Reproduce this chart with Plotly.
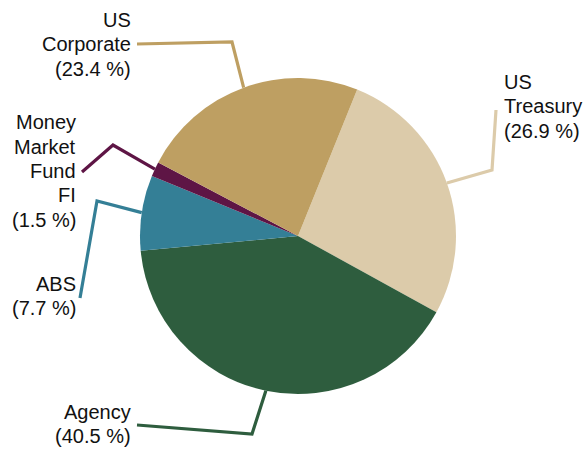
import math
import plotly.graph_objects as go

# data
sectors = ["US Treasury", "Agency", "ABS", "Money Market Fund FI", "US Corporate"]
label_lines = [["US", "Treasury"], ["Agency"], ["ABS"], ["Money", "Market", "Fund", "FI"], ["US", "Corporate"]]
shares = [26.9, 40.5, 7.7, 1.5, 23.4]
colors = ["#DCCBAA", "#2E5D3E", "#347F96", "#5E1545", "#BE9F62"]

W, H = 586, 450
cx, cy, R = 298, 236, 158
rotation = 22
line_gap = 24.5

# label layout (pixel coords): elbow, line end, text anchor (centre of block), x anchor
label_layout = [
    dict(elbow=(492, 170), end=(496, 110), text=(502, 106), xanchor="left"),
    dict(elbow=(252, 434), end=(137, 425), text=(133, 424), xanchor="right"),
    dict(elbow=(97, 201), end=(80, 298), text=(78, 296), xanchor="right"),
    dict(elbow=(113, 145), end=(82, 172), text=(78, 171), xanchor="right"),
    dict(elbow=(232, 42), end=(137, 44), text=(133, 44), xanchor="right"),
]


def to_paper(x, y):
    return x / W, 1 - y / H


fig = go.Figure(go.Pie(
    labels=sectors,
    values=shares,
    sort=False,
    direction="clockwise",
    rotation=rotation,
    marker=dict(colors=colors, line=dict(width=0)),
    textinfo="none",
    hoverinfo="label+percent",
    domain=dict(x=[(cx - R) / W, (cx + R) / W], y=[1 - (cy + R) / H, 1 - (cy - R) / H]),
    showlegend=False,
))

total = sum(shares)
start = rotation
shapes = []
annotations = []
for lines, val, col, lay in zip(label_lines, shares, colors, label_layout):
    span = val / total * 360
    mid = math.radians(start + span / 2)
    start += span
    sx, sy = cx + R * math.sin(mid), cy - R * math.cos(mid)
    pts = [to_paper(sx, sy), to_paper(*lay["elbow"]), to_paper(*lay["end"])]
    path = "M {} {} L {} {} L {} {}".format(*[c for p in pts for c in p])
    shapes.append(dict(type="path", path=path, xref="paper", yref="paper",
                       line=dict(color=col, width=3.2)))
    block = lines + [f"({val} %)"]
    n = len(block)
    for i, t in enumerate(block):
        tx, ty = to_paper(lay["text"][0], lay["text"][1] + (i - (n - 1) / 2) * line_gap)
        annotations.append(dict(
            x=tx, y=ty, xref="paper", yref="paper", showarrow=False,
            text=t, xanchor=lay["xanchor"], yanchor="middle",
            font=dict(size=20, color="#111111"),
        ))

fig.update_layout(
    width=W, height=H,
    margin=dict(l=0, r=0, t=0, b=0),
    paper_bgcolor="white",
    font=dict(family="Liberation Sans, Arial, sans-serif"),
    shapes=shapes,
    annotations=annotations,
)

fig.write_html("out.html", config={"displayModeBar": False},
               post_script="document.body.style.margin='0px';")
